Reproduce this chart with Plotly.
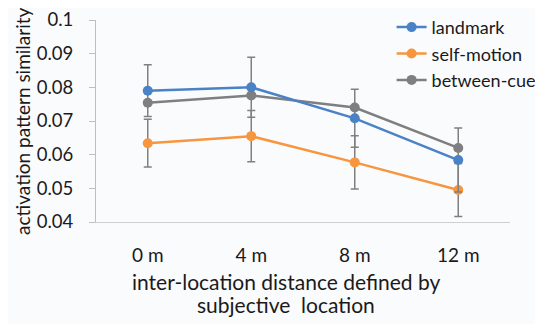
import plotly.graph_objects as go

categories = ["0 m", "4 m", "8 m", "12 m"]
landmark = [0.0790, 0.0800, 0.0708, 0.0584]
landmark_err = [0.0077, 0.0089, 0.0086, 0.0095]
self_motion = [0.0634, 0.0655, 0.0577, 0.0495]
self_motion_err = [0.0071, 0.0076, 0.0079, 0.0079]
between_cue = [0.0754, 0.0776, 0.0740, 0.0620]
y_ticks = [0.04, 0.05, 0.06, 0.07, 0.08, 0.09, 0.1]
y_tick_labels = ["0.04", "0.05", "0.06", "0.07", "0.08", "0.09", "0.1"]

BLUE = "#4A82C6"
ORANGE = "#F7963E"
GRAY = "#7F7F7F"
ERR = "#808080"
FONT = "Lato"

fig = go.Figure()
fig.add_trace(go.Scatter(
    x=categories, y=between_cue, name="between-cue", mode="lines+markers",
    line=dict(color=GRAY, width=2.5), marker=dict(color=GRAY, size=10),
    showlegend=False))
fig.add_trace(go.Scatter(
    x=categories, y=self_motion, name="self-motion", mode="lines+markers",
    line=dict(color=ORANGE, width=2.5), marker=dict(color=ORANGE, size=10),
    error_y=dict(type="data", array=self_motion_err, color=ERR, thickness=1.5, width=4),
    showlegend=False))
fig.add_trace(go.Scatter(
    x=categories, y=landmark, name="landmark", mode="lines+markers",
    line=dict(color=BLUE, width=2.5), marker=dict(color=BLUE, size=10),
    error_y=dict(type="data", array=landmark_err, color=ERR, thickness=1.5, width=4),
    showlegend=False))
# legend entries in order
for name, col in [("landmark", BLUE), ("self-motion", ORANGE), ("between-cue", GRAY)]:
    fig.add_trace(go.Scatter(x=[None], y=[None], name=name, mode="lines+markers",
                             line=dict(color=col, width=2.5), marker=dict(color=col, size=10)))

# page body adds an 8px offset, so the figure is 8px smaller and margins shifted
fig.update_layout(
    width=535, height=316,
    margin=dict(l=88, r=33, t=12, b=102, autoexpand=False),
    paper_bgcolor="#FAFBFD", plot_bgcolor="#FAFBFD",
    font=dict(family=FONT, size=19, color="#1a1a1a"),
    showlegend=True,
    legend=dict(x=0.714, y=1.055, xanchor="left", yanchor="top",
                bgcolor="rgba(0,0,0,0)", font=dict(size=18), tracegroupgap=0,
                itemwidth=30),
    xaxis=dict(type="category", range=[-0.5, 3.5], showline=True, linecolor="#CFCFCF",
               linewidth=1, ticks="", showgrid=False, zeroline=False,
               tickfont=dict(size=19), ticklabelstandoff=16),
    yaxis=dict(range=[0.04, 0.1], tickvals=y_ticks, ticktext=y_tick_labels,
               showline=True, linecolor="#BFBFBF", linewidth=1, ticks="outside",
               ticklen=6, tickcolor="#BFBFBF", showgrid=False, zeroline=False,
               tickfont=dict(size=18.5), ticklabelstandoff=12),
)
fig.add_annotation(
    text="activation pattern similarity",
    xref="paper", yref="paper", x=(14 - 88) / 414, y=0.5,
    xanchor="center", yanchor="middle", showarrow=False, textangle=-90,
    font=dict(size=19))
fig.add_annotation(
    text="inter-location distance defined by",
    xref="paper", yref="paper", x=(278 - 88) / 414, y=(214 - 273) / 202,
    xanchor="center", yanchor="middle", showarrow=False,
    font=dict(size=21))
fig.add_annotation(
    text="subjective  location",
    xref="paper", yref="paper", x=(278 - 88) / 414, y=(214 - 296) / 202,
    xanchor="center", yanchor="middle", showarrow=False,
    font=dict(size=21))

fig.write_html("out.html")
